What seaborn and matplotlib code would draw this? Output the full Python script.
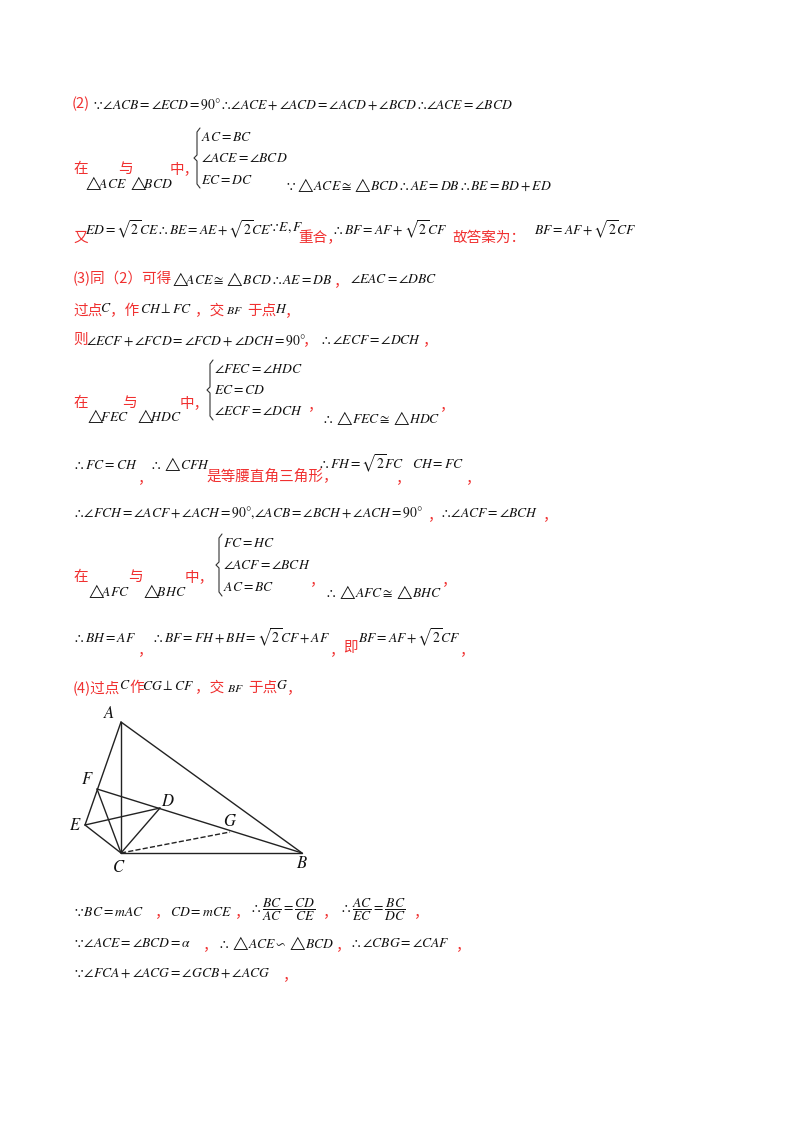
import matplotlib
matplotlib.use("Agg")
import matplotlib.pyplot as plt
import seaborn as sns

sns.set_style("white")
plt.rcParams["mathtext.fontset"] = "stix"
plt.rcParams["font.family"] = ["Noto Sans CJK SC", "DejaVu Sans"]

RED = "#f03030"
BLACK = "#111111"

# geometry points (page pixel coordinates)
pt_names = ["A", "B", "C", "D", "E", "F", "G"]
pt_x = [121, 302, 121, 160, 85, 97, 230]
pt_y = [722, 853, 853, 808, 825, 789, 832]
label_dx = [-12, 0, -2, 8, -10, -10, 0]
label_dy = [-8, 10, 14, -6, 0, -10, -10]
solid_segments = [("A", "B"), ("A", "E"), ("A", "C"), ("C", "B"), ("F", "B"),
                  ("E", "D"), ("E", "C"), ("F", "C"), ("D", "C")]
dashed_segments = [("C", "G")]

red_texts = [
    (72, 104, "(2)"),
    (73, 169, "在"), (118, 169, "与"), (170, 169, "中，"),
    (73, 238, "又"), (298, 238, "重合，"), (452, 238, "故答案为："),
    (73, 279, "(3)同（2）可得"), (334, 281, "，"),
    (73, 311, "过点"), (110, 311, "，作"), (195, 311, "，交"), (247, 311, "于点"), (285, 311, "，"),
    (73, 340, "则"), (303, 340, "，"), (423, 340, "，"),
    (73, 403, "在"), (122, 403, "与"), (180, 403, "中，"), (308, 405, "，"), (440, 405, "，"),
    (138, 478, "，"), (206, 476, "是等腰直角三角形，"), (396, 478, "，"), (466, 478, "，"),
    (428, 515, "，"), (543, 515, "，"),
    (73, 577, "在"), (128, 577, "与"), (185, 577, "中，"), (310, 580, "，"), (442, 580, "，"),
    (138, 650, "，"), (330, 650, "，"), (343, 648, "即"), (460, 650, "，"),
    (73, 688, "(4)过点"), (129, 688, "作"), (195, 688, "，交"), (248, 688, "于点"), (287, 688, "，"),
    (155, 912, "，"), (235, 912, "，"), (323, 912, "，"), (414, 912, "，"),
    (203, 945, "，"), (336, 945, "，"), (456, 945, "，"),
    (283, 975, "，"),
]

T = r"\bigtriangleup\!"
math_texts = [
    (92, 104, r"$\because\!\angle ACB=\angle ECD=90°\therefore\!\angle ACE+\angle ACD=\angle ACD+\angle BCD\therefore\!\angle ACE=\angle BCD$"),
    (201, 137, r"$AC=BC$"), (201, 158, r"$\angle ACE=\angle BCD$"), (201, 180, r"$EC=DC$"),
    (85, 183, rf"${T}ACE$"), (130, 183, rf"${T}BCD$"),
    (285, 185, rf"$\because\!{T}ACE\cong{T}BCD\therefore AE=DB\therefore BE=BD+ED$"),
    (85, 230, r"$ED=\sqrt{2}CE\therefore BE=AE+\sqrt{2}CE$"), (268, 228, r"$\because\!E,F$"),
    (332, 230, r"$\therefore BF=AF+\sqrt{2}CF$"), (534, 230, r"$BF=AF+\sqrt{2}CF$"),
    (172, 279, rf"${T}ACE\cong{T}BCD\therefore AE=DB$"), (350, 279, r"$\angle EAC=\angle DBC$"),
    (100, 308, r"$C$"), (140, 309, r"$CH\perp FC$"), (226, 311, r"$BF$"), (275, 309, r"$H$"),
    (86, 340, r"$\angle ECF+\angle FCD=\angle FCD+\angle DCH=90°$"), (320, 340, r"$\therefore\angle ECF=\angle DCH$"),
    (214, 369, r"$\angle FEC=\angle HDC$"), (214, 390, r"$EC=CD$"), (214, 411, r"$\angle ECF=\angle DCH$"),
    (87, 416, rf"${T}FEC$"), (137, 416, rf"${T}HDC$"), (322, 418, rf"$\therefore{T}FEC\cong{T}HDC$"),
    (73, 465, r"$\therefore FC=CH$"), (150, 464, rf"$\therefore{T}CFH$"),
    (318, 464, r"$\therefore FH=\sqrt{2}FC$"), (412, 464, r"$CH=FC$"),
    (73, 513, r"$\therefore\!\angle FCH=\angle ACF+\angle ACH=90°,\!\angle ACB=\angle BCH+\angle ACH=90°$"),
    (440, 513, r"$\therefore\!\angle ACF=\angle BCH$"),
    (223, 543, r"$FC=HC$"), (223, 565, r"$\angle ACF=\angle BCH$"), (223, 587, r"$AC=BC$"),
    (88, 591, rf"${T}AFC$"), (143, 591, rf"${T}BHC$"), (325, 592, rf"$\therefore{T}AFC\cong{T}BHC$"),
    (73, 638, r"$\therefore BH=AF$"), (152, 638, r"$\therefore BF=FH+BH=\sqrt{2}CF+AF$"), (358, 638, r"$BF=AF+\sqrt{2}CF$"),
    (119, 685, r"$C$"), (142, 686, r"$CG\perp CF$"), (227, 688, r"$BF$"), (276, 685, r"$G$"),
    (73, 912, r"$\because\!BC=mAC$"), (170, 912, r"$CD=mCE$"),
    (250, 910, r"$\therefore\dfrac{BC}{AC}=\dfrac{CD}{CE}$"), (340, 910, r"$\therefore\dfrac{AC}{EC}=\dfrac{BC}{DC}$"),
    (73, 943, r"$\because\!\angle ACE=\angle BCD=\alpha$"), (218, 943, rf"$\therefore{T}ACE\backsim{T}BCD$"),
    (350, 943, r"$\therefore\angle CBG=\angle CAF$"),
    (73, 973, r"$\because\!\angle FCA+\angle ACG=\angle GCB+\angle ACG$"),
]

# (x, top, bottom) of the curly braces
braces = [(197, 128, 188), (210, 360, 420), (219, 534, 596)]

fig = plt.figure(figsize=(8, 11.32), dpi=100)
ax = fig.add_axes([0, 0, 1, 1])
ax.set_xlim(0, 800)
ax.set_ylim(1132, 0)
ax.axis("off")

for x, y, t in red_texts:
    ax.text(x, y, t, color=RED, fontsize=10.5, va="center", ha="left")
for x, y, t in math_texts:
    fs = 8.5 if t == r"$BF$" else 9.8
    ax.text(x, y, t, color=BLACK, fontsize=fs, va="center", ha="left")
for x, top, bot in braces:
    mid = (top + bot) / 2
    ax.plot([x + 3, x, x, x - 3, x, x, x + 3],
            [top, top + 4, mid - 3, mid, mid + 3, bot - 4, bot],
            color="#333333", linewidth=0.8)

pos = dict(zip(pt_names, zip(pt_x, pt_y)))
for a, b in solid_segments:
    sns.lineplot(x=[pos[a][0], pos[b][0]], y=[pos[a][1], pos[b][1]], ax=ax,
                 color="#222222", linewidth=1.0, sort=False, estimator=None)
for a, b in dashed_segments:
    sns.lineplot(x=[pos[a][0], pos[b][0]], y=[pos[a][1], pos[b][1]], ax=ax,
                 color="#222222", linewidth=1.0, linestyle="--", sort=False, estimator=None)
for n, x, y, dx, dy in zip(pt_names, pt_x, pt_y, label_dx, label_dy):
    ax.text(x + dx, y + dy, f"${n}$", fontsize=12, ha="center", va="center", color=BLACK)

ax.set_xlim(0, 800)
ax.set_ylim(1132, 0)
fig.savefig("out.png", dpi=100)
